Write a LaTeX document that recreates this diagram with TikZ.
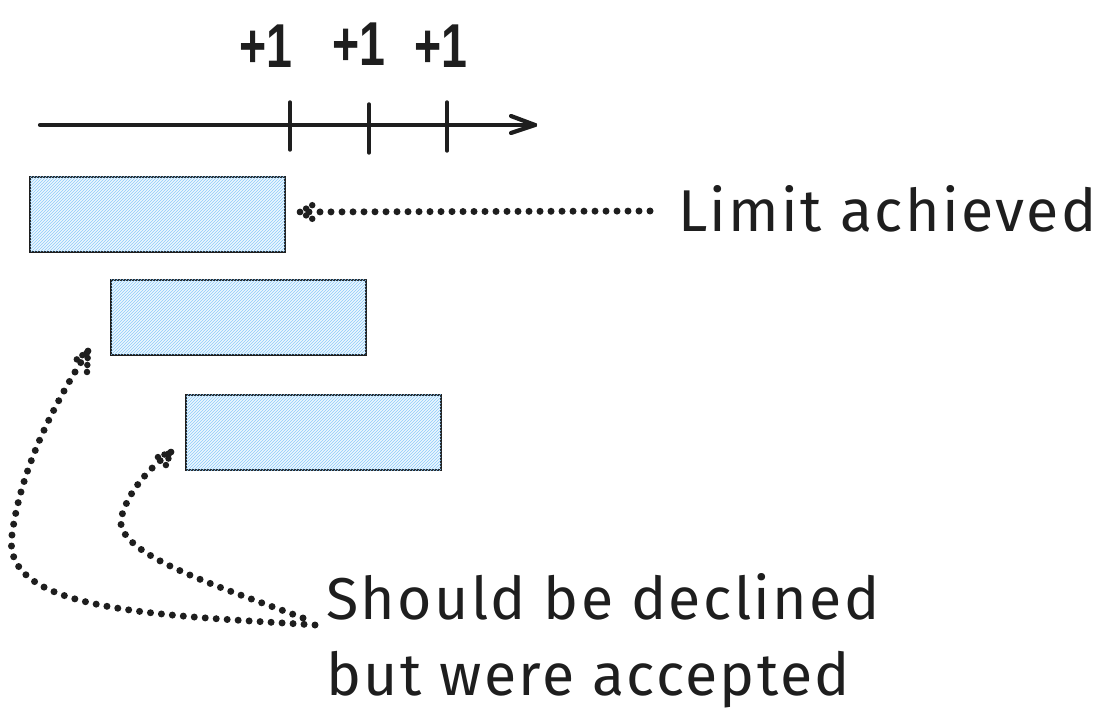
\documentclass[tikz,border=0pt]{standalone}
\usepackage{fontspec}
\setmainfont{Fira Sans}
\newfontfamily\handfont[LetterSpace=4]{Fira Sans}
\newfontfamily\plusfont{Liberation Sans}
\usetikzlibrary{patterns,arrows.meta}
\definecolor{ink}{HTML}{1E1E1E}
\definecolor{hatchblue}{HTML}{8CCBFA}
\definecolor{bgblue}{HTML}{EEF7FE}
\tikzset{
  bar/.style={draw=ink, line width=2pt, fill=bgblue,
    postaction={pattern=north east lines, pattern color=hatchblue},
    minimum width=255pt, minimum height=75pt, inner sep=0pt, anchor=north west},
  dotline/.style={draw=ink, line width=7pt, line cap=round, dash pattern=on 0pt off 11pt},
  barbline/.style={draw=ink, line width=6.5pt, line cap=round, dash pattern=on 0pt off 7pt},
  axisline/.style={draw=ink, line width=4.2pt, line cap=round},
  tickline/.style={draw=ink, line width=3.4pt, line cap=round},
  plus/.style={font=\plusfont\bfseries\fontsize{62}{62}\selectfont, text=ink, inner sep=0pt},
  hand/.style={font=\handfont\fontsize{59}{76}\selectfont, text=ink, inner sep=0pt, align=left},
}
\begin{document}
\begin{tikzpicture}[x=1pt,y=-1pt]
\useasboundingbox (0,0) rectangle (1101,727);
% axis
\coordinate (ax0) at (40,125);
\coordinate (ax1) at (535,125);
\draw[axisline] (ax0) -- (ax1);
\draw[axisline] (ax1) -- ++(-24,-9);
\draw[axisline] (ax1) -- ++(-24,8);
\coordinate (t1a) at (290,102); \coordinate (t1b) at (290,150);
\coordinate (t2a) at (369,104); \coordinate (t2b) at (369,153);
\coordinate (t3a) at (447,102); \coordinate (t3b) at (447,151);
\draw[tickline] (t1a) -- (t1b);
\draw[tickline] (t2a) -- (t2b);
\draw[tickline] (t3a) -- (t3b);
\node[plus] (p1) at (266,46) {\scalebox{0.75}[1]{+1}};
\node[plus] (p2) at (359,44) {\scalebox{0.75}[1]{+1}};
\node[plus] (p3) at (441,46) {\scalebox{0.75}[1]{+1}};
% bars
\node[bar] (r1) at (29,176) {};
\node[bar] (r2) at (110,279) {};
\node[bar] (r3) at (185,394) {};
% labels
\node[hand, anchor=base west] (lim) at (678,232) {Limit achieved};
\node[hand, anchor=base west] (decl) at (326,695) {Should be declined\\but were accepted};
% arrow to r1
\coordinate (lt) at (650,211);
\coordinate (tip1) at (300,212);
\draw[dotline] (lt) -- (tip1);
\draw[barbline] (tip1) -- ++(18,-10);
\draw[barbline] (tip1) -- ++(18,10);
% curve to r2
\coordinate (s1) at (315,625);
\coordinate (tip2) at (88,351);
\draw[dotline] (s1) .. controls (160,615) and (0,612) .. (12,535)
  .. controls (22,460) and (62,392) .. (tip2);
\draw[barbline] (tip2) -- ++(-16,12);
\draw[barbline] (tip2) -- ++(-1,21);
% curve to r3
\coordinate (s2) at (303,618);
\coordinate (tip3) at (171,452);
\draw[dotline] (s2) .. controls (215,585) and (108,552) .. (122,515)
  .. controls (130,488) and (152,466) .. (tip3);
\draw[barbline] (tip3) -- ++(-18,7);
\draw[barbline] (tip3) -- ++(-7,18);
\end{tikzpicture}
\end{document}
